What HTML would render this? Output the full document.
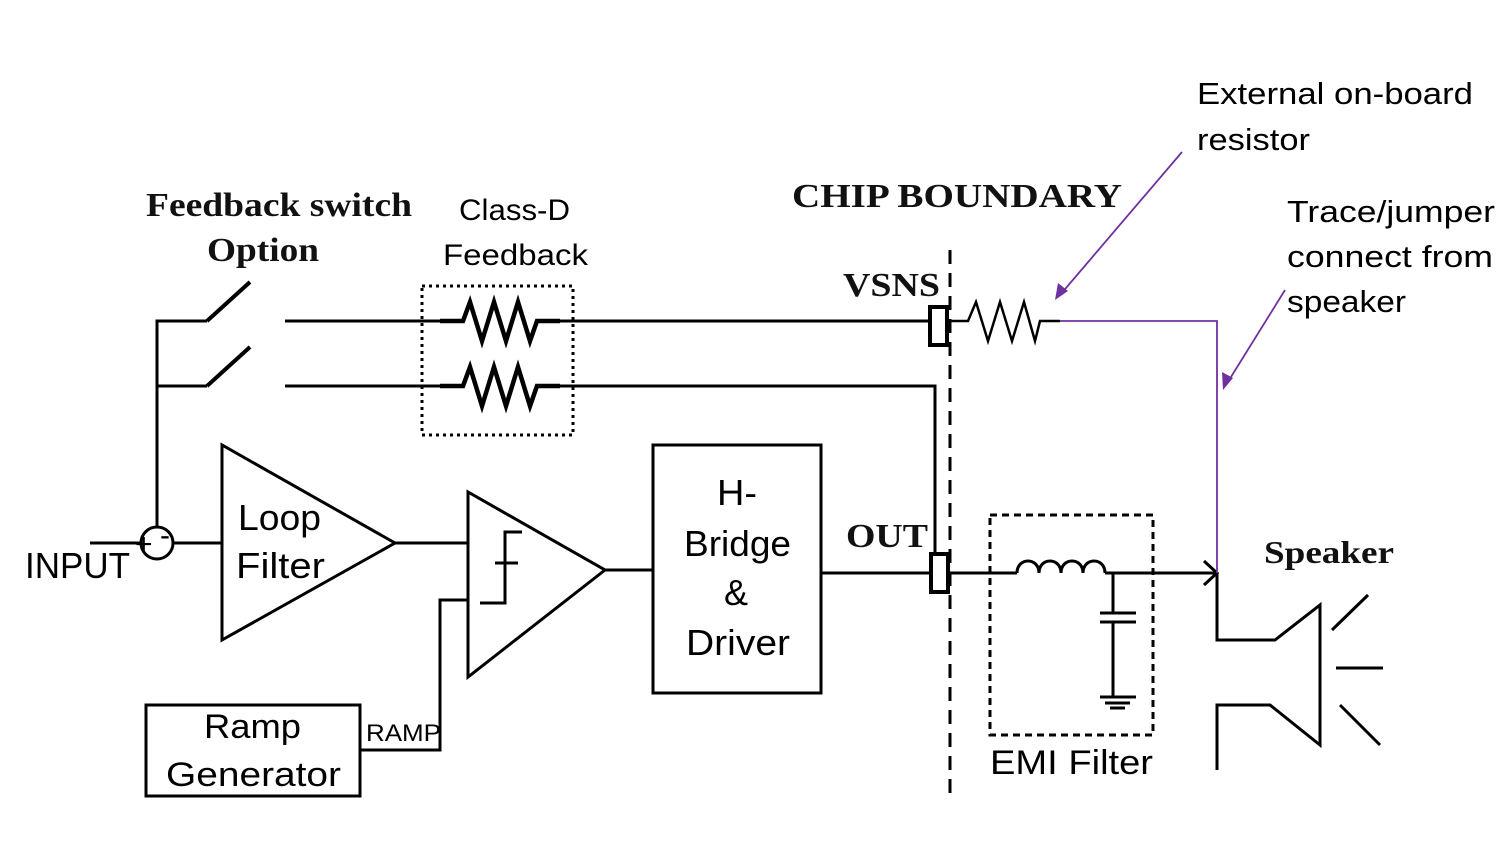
<!DOCTYPE html>
<html><head><meta charset="utf-8"><style>
html,body{margin:0;padding:0;background:#fff;}
svg{display:block;}
.s{font-family:"Liberation Sans",sans-serif;fill:#000;}
.b{font-family:"Liberation Serif",serif;font-weight:bold;fill:#111;}
</style></head><body>
<svg width="1509" height="864" viewBox="0 0 1509 864" xmlns="http://www.w3.org/2000/svg">
<g stroke="#000" stroke-width="3" fill="none" stroke-linejoin="miter">
<path d="M157 527 V321 H207"/>
<path d="M207 321 L250 282" stroke-width="4"/>
<path d="M157 386 H207"/>
<path d="M207 386 L250 347" stroke-width="4"/>
<path d="M285 321 H440"/>
<path d="M440 321 H463 L470 302 L482 341 L494 302 L506 341 L518 302 L530 341 L537 321 H560" stroke-width="4.5"/>
<path d="M560 321 H929"/>
<path d="M285 386 H440"/>
<path d="M440 386 H463 L470 367 L482 406 L494 367 L506 406 L518 367 L530 406 L537 386 H560" stroke-width="4.5"/>
<path d="M560 386 H935 V555"/>
<rect x="422" y="286" width="151" height="149" stroke-width="3" stroke-dasharray="3 4"/>
<circle cx="157" cy="543" r="16"/>
<path d="M90 543 H141"/>
<path d="M173 543 H222"/>
<path d="M222 445 L222 640 L395 543 Z"/>
<path d="M395 543 H468"/>
<path d="M468 492 L468 677 L605 570 Z"/>
<path d="M480 603 H505 V532 H522"/>
<path d="M495 563 H518"/>
<path d="M468 600 H440 V750 H360"/>
<rect x="146" y="705" width="214" height="91"/>
<path d="M605 570 H653"/>
<rect x="653" y="445" width="168" height="248"/>
<path d="M821 573 H930"/>
<rect x="930" y="307" width="17" height="38" stroke-width="4"/>
<rect x="931" y="554" width="17" height="38" stroke-width="4"/>
<path d="M950 250 V800" stroke-dasharray="14 9"/>
<path d="M947 321 H968 L976 302 L988 341 L1000 302 L1012 341 L1024 302 L1035 341 L1040 321 H1060" stroke-width="2.5"/>
<path d="M948 573 H1017"/>
<path d="M1017 573 c0 -16 22 -16 22 0 c0 -16 22 -16 22 0 c0 -16 22 -16 22 0 c0 -16 22 -16 22 0"/>
<path d="M1105 573 H1217"/>
<path d="M1204 561 L1217 573 L1204 585"/>
<path d="M1113 573 V613 M1100 613 H1136 M1100 622 H1136 M1113 622 V697 M1100 697 H1136 M1105 703 H1130 M1110 708 H1125"/>
<rect x="990" y="515" width="163" height="220" stroke-dasharray="7 5"/>
<path d="M1217 573 V640 H1275 L1320 605 V745 L1270 705 H1217 V770"/>
<path d="M1332 630 L1368 595 M1336 668 H1383 M1340 705 L1380 745"/>
</g>
<g stroke="#7030a0" stroke-width="1.8" fill="none">
<path d="M1060 321 H1217 V573"/>
<path d="M1182 152 L1060 295"/>
<path d="M1285 290 L1226 385"/>
</g>
<g fill="#7030a0">
<polygon points="1055,300 1058,283 1068,291"/>
<polygon points="1223,390 1222,372 1233,378"/>
</g>
<text class="s" x="135" y="554" font-size="30">+</text>
<text class="s" x="160" y="545" font-size="30">-</text>
<text class="b" x="146" y="216" font-size="34" textLength="266" lengthAdjust="spacingAndGlyphs">Feedback switch</text>
<text class="b" x="207" y="261" font-size="34" textLength="112" lengthAdjust="spacingAndGlyphs">Option</text>
<text class="s" x="459" y="220" font-size="30" textLength="111" lengthAdjust="spacingAndGlyphs">Class-D</text>
<text class="s" x="443" y="265" font-size="30" textLength="145" lengthAdjust="spacingAndGlyphs">Feedback</text>
<text class="b" x="792" y="207" font-size="34" textLength="330" lengthAdjust="spacingAndGlyphs">CHIP BOUNDARY</text>
<text class="b" x="843" y="296" font-size="34" textLength="97" lengthAdjust="spacingAndGlyphs">VSNS</text>
<text class="b" x="846" y="547" font-size="34" textLength="82" lengthAdjust="spacingAndGlyphs">OUT</text>
<text class="b" x="1264" y="563" font-size="32" textLength="130" lengthAdjust="spacingAndGlyphs">Speaker</text>
<text class="s" x="1197" y="104" font-size="31" textLength="276" lengthAdjust="spacingAndGlyphs">External on-board</text>
<text class="s" x="1197" y="150" font-size="31" textLength="113" lengthAdjust="spacingAndGlyphs">resistor</text>
<text class="s" x="1287" y="222" font-size="31" textLength="208" lengthAdjust="spacingAndGlyphs">Trace/jumper</text>
<text class="s" x="1287" y="267" font-size="31" textLength="206" lengthAdjust="spacingAndGlyphs">connect from</text>
<text class="s" x="1287" y="312" font-size="31" textLength="119" lengthAdjust="spacingAndGlyphs">speaker</text>
<text class="s" x="25" y="578" font-size="36" textLength="105" lengthAdjust="spacingAndGlyphs">INPUT</text>
<text class="s" x="238" y="530" font-size="36" textLength="83" lengthAdjust="spacingAndGlyphs">Loop</text>
<text class="s" x="236" y="578" font-size="36" textLength="89" lengthAdjust="spacingAndGlyphs">Filter</text>
<text class="s" x="717" y="505" font-size="36" textLength="40" lengthAdjust="spacingAndGlyphs">H-</text>
<text class="s" x="684" y="556" font-size="36" textLength="107" lengthAdjust="spacingAndGlyphs">Bridge</text>
<text class="s" x="724" y="605" font-size="36">&amp;</text>
<text class="s" x="686" y="655" font-size="36" textLength="104" lengthAdjust="spacingAndGlyphs">Driver</text>
<text class="s" x="204" y="738" font-size="34" textLength="97" lengthAdjust="spacingAndGlyphs">Ramp</text>
<text class="s" x="166" y="786" font-size="34" textLength="175" lengthAdjust="spacingAndGlyphs">Generator</text>
<text class="s" x="366" y="741" font-size="24" textLength="75" lengthAdjust="spacingAndGlyphs">RAMP</text>
<text class="s" x="990" y="774" font-size="34" textLength="163" lengthAdjust="spacingAndGlyphs">EMI Filter</text>
</svg>
</body></html>
